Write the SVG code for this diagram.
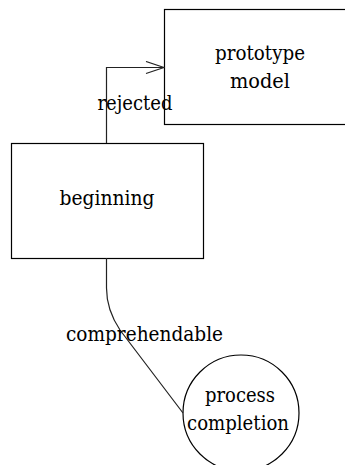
<svg xmlns="http://www.w3.org/2000/svg" width="345" height="465" viewBox="0 0 345 465">
<style>
.node{fill:#fff;stroke:#000;stroke-width:1.2}
.t{font-family:'DejaVu Serif',serif;font-size:21px;fill:#000;text-anchor:middle}
.edge{fill:none;stroke:#222;stroke-width:1.2}
</style>
<defs>
<marker id="arr" markerWidth="20" markerHeight="14" refX="19" refY="7" orient="auto" markerUnits="userSpaceOnUse">
<path d="M1,1 L19,7 L1,13" fill="none" stroke="#222" stroke-width="1.2"/>
</marker>
</defs>
<g id="prototype">
<rect class="node" x="164.5" y="9.5" width="200" height="115"/>
<text class="t" x="260" y="60" textLength="90" lengthAdjust="spacingAndGlyphs">prototype</text>
<text class="t" x="260" y="88" textLength="60" lengthAdjust="spacingAndGlyphs">model</text>
</g>
<g id="beginning">
<rect class="node" x="11.5" y="143.5" width="192" height="115"/>
<text class="t" x="107" y="205" textLength="95" lengthAdjust="spacingAndGlyphs">beginning</text>
</g>
<g id="completion">
<circle class="node" cx="241" cy="413" r="58"/>
<text class="t" x="240" y="402" textLength="70" lengthAdjust="spacingAndGlyphs">process</text>
<text class="t" x="238" y="430" textLength="102" lengthAdjust="spacingAndGlyphs">completion</text>
</g>
<g id="connectors">
<path class="edge" d="M106.5,143 L106.5,67.5 L164,67.5" marker-end="url(#arr)"/>
<path class="edge" d="M106.5,258 L106.5,288 C106.5,305 112,318 120,330 L183,413"/>
<text class="t" x="135" y="110" textLength="75" lengthAdjust="spacingAndGlyphs">rejected</text>
<text class="t" x="144.5" y="341" textLength="157" lengthAdjust="spacingAndGlyphs">comprehendable</text>
</g>
</svg>
